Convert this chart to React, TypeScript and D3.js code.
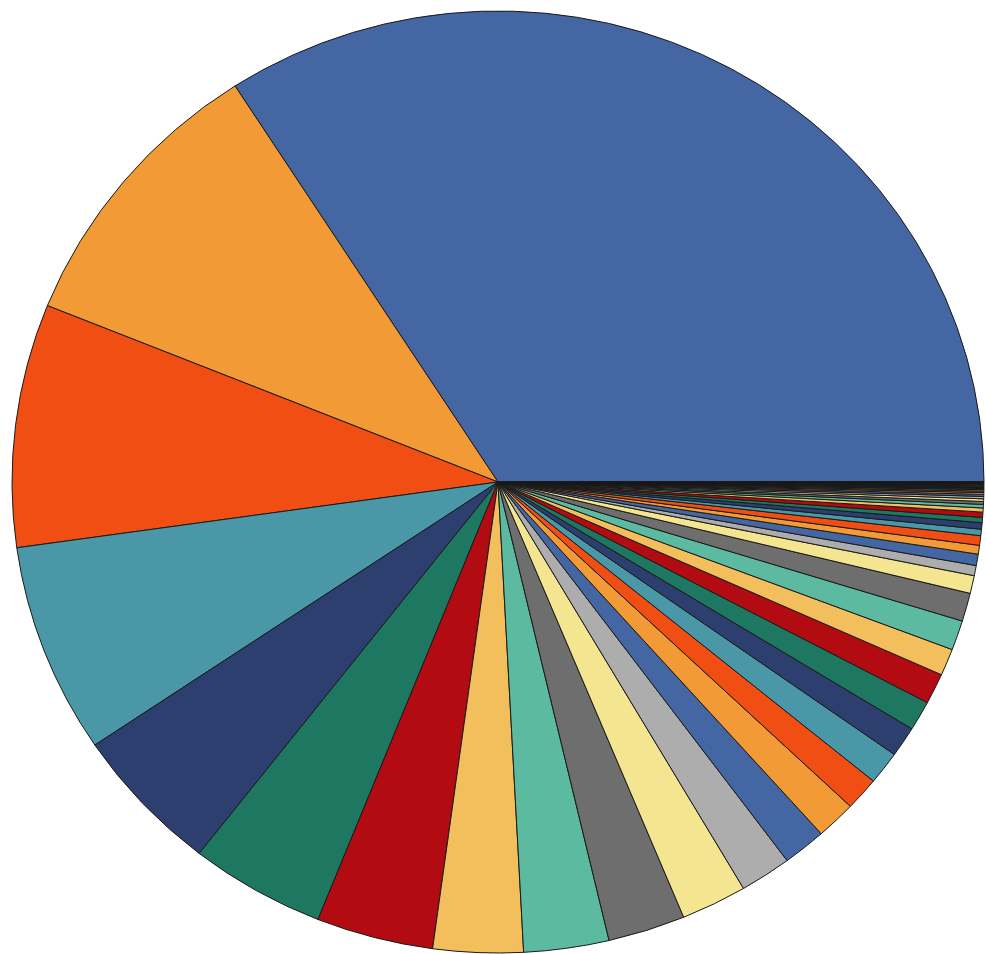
import React from "react";
import * as d3 from "d3";

const palette = [
  "#4466A3", "#F29B36", "#F04E13", "#4A97A8", "#2D3F6F", "#1E7861",
  "#B20B12", "#F2BF5C", "#5BBA9F", "#6E6E6E", "#F4E590", "#ADADAD",
];

const values = [
  34.1, 9.79, 8.34, 7.2, 5.03, 4.5, 3.89, 2.99, 2.83, 2.57, 2.19, 1.71,
  1.44, 1.33, 1.14, 1.13, 1.04, 1.02, 1.05, 0.92, 1.02, 0.97, 0.61, 0.35,
  0.39, 0.3, 0.33, 0.22, 0.22, 0.18, 0.18, 0.14, 0.12, 0.1, 0.09, 0.08,
  0.07, 0.06, 0.05, 0.05, 0.04, 0.03, 0.025, 0.02, 0.02, 0.015, 0.015,
  0.012, 0.01, 0.01, 0.01, 0.008, 0.008, 0.006, 0.006, 0.005, 0.005,
  0.004, 0.004, 0.003, 0.003,
];

const W = 986;
const H = 954;
const CX = 498;
const CY = 482;
const RX = 486;
const RY = 471;

export default function App() {
  const pie = d3
    .pie<number>()
    .sort(null)
    .value((d) => d)
    .startAngle(Math.PI / 2)
    .endAngle(Math.PI / 2 - 2 * Math.PI);
  const arcs = pie(values);
  const arc = d3.arc<d3.PieArcDatum<number>>().innerRadius(0).outerRadius(RY);
  return (
    <svg
      width={W}
      height={H}
      style={{ position: "absolute", left: 0, top: 0, background: "#fff" }}
    >
      <g transform={`translate(${CX},${CY}) scale(${RX / RY},1)`}>
        {arcs.map((a, i) => (
          <path
            key={i}
            d={arc(a) || ""}
            fill={palette[i % palette.length]}
            stroke="#1a1a1a"
            strokeWidth={1}
            strokeLinejoin="round"
            vectorEffect="non-scaling-stroke"
          />
        ))}
      </g>
    </svg>
  );
}
